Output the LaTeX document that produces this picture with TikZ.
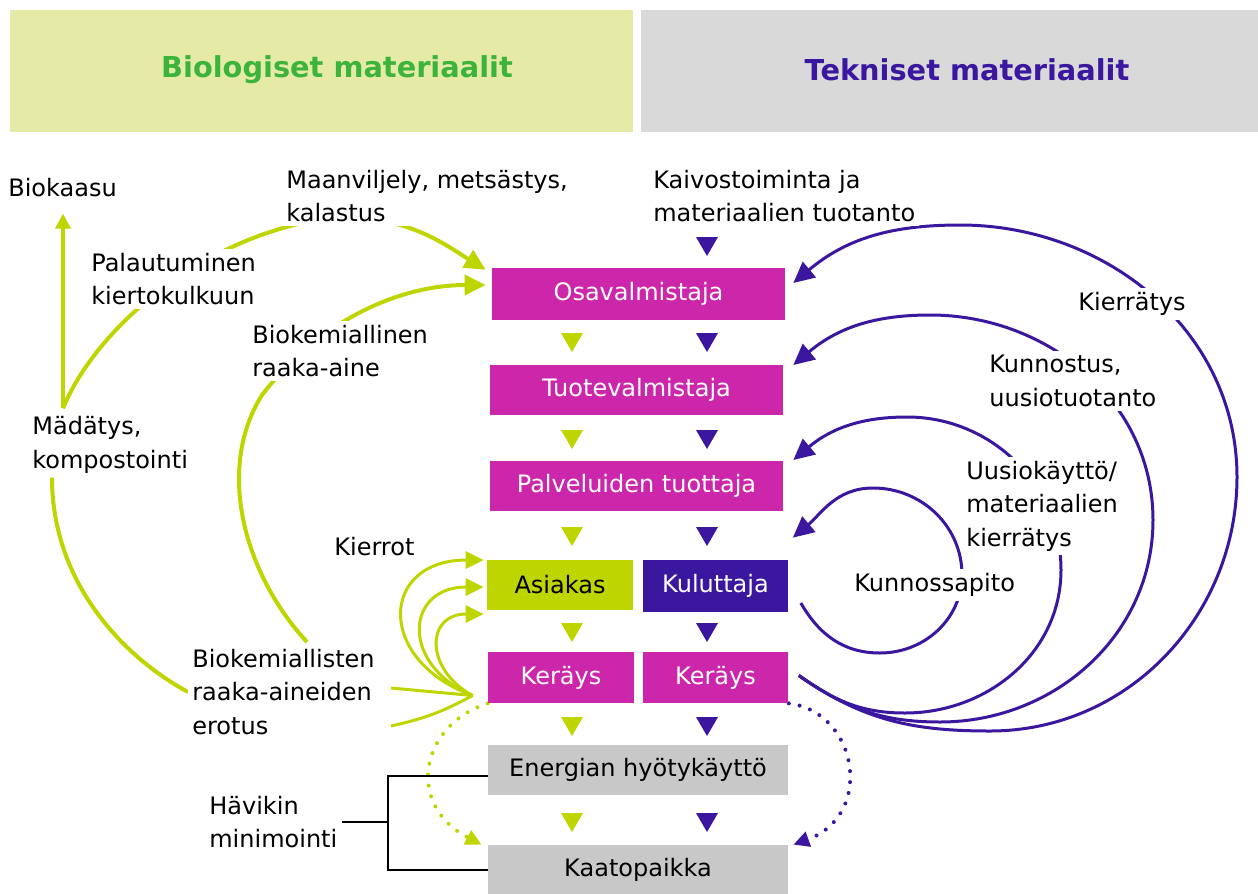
\documentclass[tikz,border=0pt]{standalone}
\usepackage{fontspec}
\setmainfont{DejaVu Sans}
\usetikzlibrary{arrows.meta,calc,positioning}
\pgfdeclarelayer{behind}
\pgfsetlayers{behind,main}
\definecolor{headgreen}{HTML}{E5EAA6}
\definecolor{headgray}{HTML}{D9D9D9}
\definecolor{titlegreen}{HTML}{3CB43C}
\definecolor{biogreen}{HTML}{BFD500}
\definecolor{techpurple}{HTML}{3B169F}
\definecolor{boxmagenta}{HTML}{CC26AB}
\definecolor{boxgray}{HTML}{C8C8C8}

\begin{document}
\begin{tikzpicture}[x=0.02cm,y=-0.02cm,font=\fontsize{13.66}{19}\selectfont,
    stagebox/.style={fill=boxmagenta,text=white,minimum width=5.86cm,minimum height=1cm,inner sep=0pt},
    halfbox/.style={stagebox,minimum width=2.92cm},
    endbox/.style={fill=boxgray,text=black,minimum width=6cm,minimum height=1cm,inner sep=0pt},
    lbl/.style={align=left,anchor=west,fill=white,inner sep=0.08cm},
    titletext/.style={font=\fontsize{16.4}{20}\selectfont\bfseries},
    bioline/.style={draw=biogreen,line width=0.08cm},
    techline/.style={draw=techpurple,line width=0.06cm},
    bioarrow/.style={bioline,-{Triangle[length=0.42cm,width=0.4cm]}},
    kierarrow/.style={bioline,line width=0.06cm,-{Triangle[length=0.36cm,width=0.34cm]}},
    techarrow/.style={techline,-{Triangle[length=0.42cm,width=0.4cm]}},
    dotline/.style={line width=0.08cm,line cap=round,dash pattern=on 0pt off 0.22cm,-{Triangle[length=0.32cm,width=0.3cm]}},
    bracket/.style={draw=black,line width=0.04cm}]
    \useasboundingbox (0,0) rectangle (1258,893);
    % headers
    \fill[headgreen] (10,10) rectangle (633,132);
    \fill[headgray] (641,10) rectangle (1258,132);
    \node[titletext,text=titlegreen] (biotitle) at (337,70) {Biologiset materiaalit};
    \node[titletext,text=techpurple] (techtitle) at (967,70) {Tekniset materiaalit};
    % value chain
    \node[stagebox,minimum height=1.04cm] (osa) at (638.5,294) {Osavalmistaja};
    \node[stagebox] (tuote) at (636.5,390) {Tuotevalmistaja};
    \node[stagebox] (palv) at (636.5,486) {Palveluiden tuottaja};
    \node[halfbox,fill=biogreen,text=black] (asi) at (560,585) {Asiakas};
    \node[halfbox,fill=techpurple,minimum height=1.04cm] (kul) at (715.5,586) {Kuluttaja};
    \node[halfbox,minimum height=1.02cm] (kerL) at (561,677.5) {Keräys};
    \node[halfbox,minimum height=1.02cm] (kerR) at (715.5,677.5) {Keräys};
    \node[endbox] (ener) at (638,770) {Energian hyötykäyttö};
    \node[endbox] (kaat) at (638,870) {Kaatopaikka};
    % small flow marks
    \foreach \ty in {342,439,536,632,726,822}{
      \fill[biogreen] (561,\ty-9) -- (583,\ty-9) -- (572,\ty+10) -- cycle;
      \fill[techpurple] (696,\ty-9) -- (718,\ty-9) -- (707,\ty+10) -- cycle;
    }
    \fill[techpurple] (696,237) -- (718,237) -- (707,256) -- cycle;
    % labels
    \node[lbl] (biokaasu) at (4,188) {Biokaasu};
    \node[lbl] (maanv) at (282,196) {Maanviljely, metsästys,\\kalastus};
    \node[lbl] (kaivos) at (649,196) {Kaivostoiminta ja\\materiaalien tuotanto};
    \node[lbl] (palaut) at (87,279) {Palautuminen\\kiertokulkuun};
    \node[lbl] (biokem) at (248,351) {Biokemiallinen\\raaka-aine};
    \node[lbl] (madatys) at (28,445) {Mädätys,\\kompostointi};
    \node[lbl] (kierrot) at (330,547) {Kierrot};
    \node[lbl] (erotus) at (188,692) {Biokemiallisten\\raaka-aineiden\\erotus};
    \node[lbl] (havikin) at (205,822) {Hävikin\\minimointi};
    \node[lbl] (kierratys) at (1074,304) {Kierrätys};
    \node[lbl] (kunnostus) at (985,381) {Kunnostus,\\uusiotuotanto};
    \node[lbl] (uusio) at (962,506) {Uusiokäyttö/\\materiaalien\\kierrätys};
    \node[lbl] (kunnossa) at (850,585) {Kunnossapito};

    \begin{pgfonlayer}{behind}
    % biological loops
    \coordinate (madtop) at ($(madatys.north west)+(35,-4)$);
    \draw[bioline,-{Triangle[length=0.3cm,width=0.3cm]}] (madtop) -- (madtop |- biokaasu.south) [shorten >=0.24cm];
    \draw[bioarrow] (madtop) .. controls (95,330) and (200,236) .. (330,218)
      .. controls (405,212) and (450,248) .. ($(osa.north west)+(-6,2)$);
    \draw[bioarrow] ($(erotus.north west)+(119,-3)$) .. controls (245,575) and (215,470) .. (262,395)
      .. controls (320,320) and (400,285) .. ($(osa.west)+(-6,-9)$);
    \draw[bioline] ($(madatys.south west)+(24,0)$) .. controls (52,580) and (120,655) .. (erotus.west);
    % Kierrot
    \coordinate (kj) at ($(kerL.west)+(-15,18)$);
    \draw[bioline,line width=0.06cm] ($(erotus.east)+(12,-4)$) -- (kj);
    \draw[bioline,line width=0.06cm] ($(erotus.east)+(12,34)$) to[bend right=8] (kj);
    \draw[kierarrow] (kj) .. controls (375,660) and (380,560) .. ($(asi.west)+(-3,-25)$);
    \draw[kierarrow] (kj) .. controls (400,665) and (405,587) .. ($(asi.west)+(-3,2)$);
    \draw[kierarrow] (kj) .. controls (425,670) and (425,614) .. ($(asi.west)+(-3,29)$);
    \draw[biogreen,dotline] (kerL.south west) .. controls (420,725) and (405,805) .. ($(kaat.north west)+(-6,0)$);
    % technical loops
    \coordinate (kout) at ($(kerR.east)+(10,-2)$);
    \draw[techarrow] (kout) to[out=-35,in=180] (990,731) to[out=0,in=-90] (1237,477)
      to[out=90,in=0] (960,225) to[out=180,in=40] ($(osa.east)+(8,-11)$);
    \draw[techarrow] (kout) to[out=-35,in=180] (940,722) to[out=0,in=-90] (1153,520)
      to[out=90,in=0] (930,315) to[out=180,in=40] ($(tuote.east)+(10,-25)$);
    \draw[techarrow] (kout) to[out=-35,in=180] (905,713) to[out=0,in=-90] (1061,570)
      to[out=90,in=0] (907,417) to[out=180,in=40] ($(palv.east)+(10,-26)$);
    \draw[techarrow] ($(kul.east)+(12,17)$) to[out=-60,in=180] (880,653) to[out=0,in=-90] (962,575)
      to[out=90,in=0] (873,488) to[out=180,in=40] ($(kul.north east)+(4,-22)$);
    \draw[techpurple,dotline] (kerR.south east) .. controls (858,712) and (875,815) .. ($(kaat.north east)+(5,0)$);
    \end{pgfonlayer}
    % Hävikin minimointi
    \coordinate (brk) at (388,822);
    \draw[bracket] ($(ener.west)+(0,6)$) -| (brk) |- (kaat.west);
    \draw[bracket] (havikin.east) -- (brk);
\end{tikzpicture}
\end{document}
